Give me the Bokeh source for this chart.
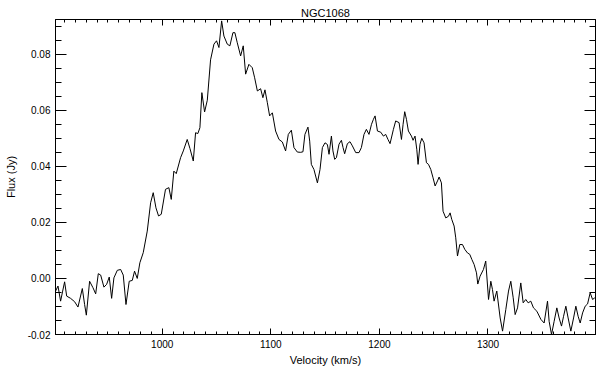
from bokeh.plotting import figure
from bokeh.models import (LinearAxis, SingleIntervalTicker, NumeralTickFormatter, Range1d,
                          ColumnDataSource, CustomLabelingPolicy)
from bokeh.embed import file_html
from bokeh.resources import INLINE

# Data (velocity km/s, flux Jy)
velocity = [
    901.8, 904.0, 906.4, 908.3, 910.1, 912.0, 915.6, 919.3, 922.4, 926.4,
    928.5, 930.1, 933.1, 936.2, 938.7, 941.1, 943.3, 946.3, 948.8, 951.2,
    953.4, 955.5, 958.6, 961.7, 964.1, 966.6, 969.6, 972.4, 974.5, 977.0,
    979.4, 982.5, 986.2, 989.3, 991.7, 994.2, 996.6, 999.1, 1003.0, 1006.1,
    1008.3, 1010.7, 1012.9, 1016.9, 1019.4, 1023.0, 1025.5, 1028.6, 1030.7, 1032.8,
    1034.7, 1036.5, 1039.0, 1041.5, 1044.5, 1047.6, 1050.0, 1052.2, 1054.7, 1056.8,
    1059.9, 1062.3, 1065.1, 1066.9, 1069.1, 1072.2, 1074.6, 1076.8, 1079.8, 1082.9,
    1085.1, 1087.6, 1090.6, 1092.7, 1094.6, 1096.8, 1098.9, 1101.4, 1104.4, 1107.5,
    1110.6, 1113.6, 1116.1, 1118.9, 1121.3, 1124.4, 1127.5, 1129.6, 1131.4, 1134.2,
    1135.8, 1137.3, 1139.7, 1142.9, 1145.3, 1147.5, 1149.9, 1152.1, 1153.6, 1155.8,
    1157.2, 1158.8, 1160.4, 1162.8, 1165.0, 1166.5, 1168.0, 1170.5, 1172.9, 1175.1,
    1178.2, 1181.2, 1183.4, 1185.8, 1188.0, 1190.4, 1192.7, 1194.5, 1196.0, 1198.2,
    1201.2, 1203.7, 1205.8, 1207.9, 1209.8, 1212.9, 1215.0, 1218.1, 1220.3, 1221.8,
    1223.3, 1224.9, 1226.7, 1229.5, 1231.0, 1232.8, 1234.4, 1235.6, 1237.4, 1239.0,
    1241.1, 1243.3, 1245.2, 1247.3, 1249.4, 1251.3, 1253.5, 1255.0, 1257.1, 1258.6,
    1261.1, 1263.6, 1265.1, 1266.6, 1268.8, 1270.3, 1271.9, 1274.0, 1276.5, 1278.6,
    1281.1, 1283.2, 1285.1, 1287.2, 1289.4, 1290.6, 1292.7, 1295.8, 1297.9, 1300.5,
    1302.6, 1304.1, 1305.6, 1308.1, 1311.2, 1313.4, 1316.4, 1318.9, 1321.0, 1323.2,
    1325.0, 1327.2, 1330.2, 1332.4, 1334.8, 1337.0, 1339.4, 1341.9, 1345.0, 1348.7,
    1351.7, 1354.8, 1356.3, 1358.5, 1360.9, 1363.4, 1365.5, 1367.7, 1369.6, 1371.7,
    1373.8, 1376.3, 1378.8, 1380.9, 1383.0, 1384.9, 1387.1, 1389.5, 1391.7, 1394.1,
    1396.3, 1398.4,
]
flux = [
    -0.0045, -0.0027, -0.0081, -0.0045, -0.0012, -0.0063, -0.0071, -0.0083, -0.0102, -0.0036,
    -0.0093, -0.0131, -0.0010, -0.0033, -0.0055, 0.0017, 0.0012, -0.0031, -0.0021, 0.0005,
    -0.0071, 0.0002, 0.0029, 0.0032, 0.0012, -0.0093, -0.0010, -0.0007, 0.0026, 0.0000,
    0.0056, 0.0092, 0.0169, 0.0270, 0.0306, 0.0252, 0.0223, 0.0229, 0.0318, 0.0324,
    0.0282, 0.0383, 0.0374, 0.0431, 0.0455, 0.0496, 0.0464, 0.0419, 0.0520, 0.0517,
    0.0538, 0.0663, 0.0594, 0.0636, 0.0780, 0.0836, 0.0848, 0.0824, 0.0919, 0.0865,
    0.0836, 0.0830, 0.0877, 0.0877, 0.0841, 0.0794, 0.0830, 0.0729, 0.0764, 0.0752,
    0.0716, 0.0669, 0.0677, 0.0645, 0.0673, 0.0627, 0.0580, 0.0591, 0.0526, 0.0496,
    0.0487, 0.0455, 0.0514, 0.0529, 0.0467, 0.0451, 0.0450, 0.0452, 0.0514, 0.0540,
    0.0490, 0.0407, 0.0389, 0.0341, 0.0389, 0.0467, 0.0484, 0.0478, 0.0443, 0.0508,
    0.0455, 0.0425, 0.0431, 0.0479, 0.0493, 0.0467, 0.0445, 0.0481, 0.0488, 0.0473,
    0.0449, 0.0449, 0.0467, 0.0514, 0.0532, 0.0514, 0.0550, 0.0568, 0.0580, 0.0526,
    0.0522, 0.0508, 0.0514, 0.0496, 0.0481, 0.0532, 0.0562, 0.0556, 0.0496, 0.0550,
    0.0595, 0.0568, 0.0526, 0.0508, 0.0493, 0.0508, 0.0461, 0.0407, 0.0479, 0.0500,
    0.0484, 0.0413, 0.0407, 0.0389, 0.0359, 0.0330, 0.0348, 0.0362, 0.0341, 0.0240,
    0.0216, 0.0222, 0.0234, 0.0211, 0.0187, 0.0145, 0.0080, 0.0121, 0.0121, 0.0104,
    0.0091, 0.0086, 0.0068, 0.0050, 0.0020, -0.0020, 0.0008, 0.0032, 0.0062, -0.0075,
    -0.0010, -0.0039, -0.0081, -0.0045, -0.0141, -0.0188, -0.0111, -0.0045, -0.0010, -0.0069,
    -0.0129, -0.0105, -0.0016, -0.0087, -0.0075, -0.0087, -0.0081, -0.0105, -0.0117, -0.0146,
    -0.0159, -0.0081, -0.0153, -0.0200, -0.0153, -0.0105, -0.0141, -0.0170, -0.0135, -0.0099,
    -0.0141, -0.0188, -0.0141, -0.0099, -0.0135, -0.0159, -0.0123, -0.0099, -0.0091, -0.0051,
    -0.0075, -0.0069,
]

title_text = "NGC1068"
x_label = "Velocity (km/s)"
y_label = "Flux (Jy)"

FONT = "Liberation Sans"

p = figure(
    width=599, height=376,
    x_range=Range1d(901.7, 1399.0), y_range=Range1d(-0.02, 0.0924),
    output_backend="svg", toolbar_location=None,
    x_axis_location=None, y_axis_location=None,
    min_border_left=55, min_border_right=4, min_border_top=19, min_border_bottom=42,
)
p.xgrid.visible = False
p.ygrid.visible = False
p.outline_line_color = "black"
p.background_fill_color = "white"
p.border_fill_color = "white"

p.title.text = title_text
p.title.align = "center"
p.title.text_font = FONT
p.title.text_font_size = "11px"
p.title.text_font_style = "normal"
p.title.text_color = "black"
p.title.standoff = 2


def style_axis(ax, major, minor, show_labels):
    ax.major_tick_in = major
    ax.major_tick_out = 0
    ax.minor_tick_in = minor
    ax.minor_tick_out = 0
    ax.axis_line_color = "black"
    ax.major_tick_line_color = "black"
    ax.minor_tick_line_color = "black"
    ax.major_label_text_font = FONT
    ax.major_label_text_color = "black"
    if show_labels:
        ax.major_label_text_font_size = "10px"
        ax.major_label_standoff = 5
    else:
        # tick marks only: drop every label
        ax.major_label_policy = CustomLabelingPolicy(code="""
            for (const i of indices) { indices.unset(i) }
            return indices
        """)
        ax.major_label_text_font_size = "0px"
        ax.major_label_standoff = 0


xt = dict(interval=100, num_minor_ticks=10)
yt = dict(interval=0.02, num_minor_ticks=4)

bottom = LinearAxis(ticker=SingleIntervalTicker(**xt), axis_label=x_label)
style_axis(bottom, 6, 3, True)
bottom.axis_label_text_font = FONT
bottom.axis_label_text_font_size = "11px"
bottom.axis_label_text_font_style = "normal"
bottom.axis_label_text_color = "black"
bottom.axis_label_standoff = 3
p.add_layout(bottom, "below")

top = LinearAxis(ticker=SingleIntervalTicker(**xt))
style_axis(top, 6, 3, False)
p.add_layout(top, "above")

left = LinearAxis(ticker=SingleIntervalTicker(**yt), axis_label=y_label,
                  formatter=NumeralTickFormatter(format="0.00"))
style_axis(left, 11, 6, True)
left.axis_label_text_font = FONT
left.axis_label_text_font_size = "11px"
left.axis_label_text_font_style = "normal"
left.axis_label_text_color = "black"
left.axis_label_standoff = 8
p.add_layout(left, "left")

right = LinearAxis(ticker=SingleIntervalTicker(**yt))
style_axis(right, 11, 6, False)
p.add_layout(right, "right")

src = ColumnDataSource(dict(v=velocity, f=flux))
p.line("v", "f", source=src, line_color="black", line_width=1)

open("out.html", "w").write(file_html(p, INLINE))
